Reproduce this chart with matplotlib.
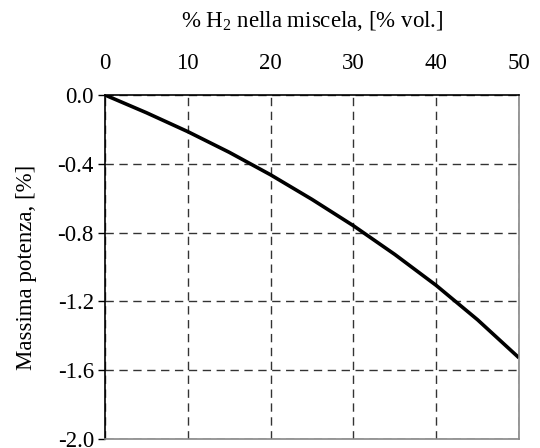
import matplotlib
matplotlib.use("Agg")
import matplotlib.pyplot as plt
import numpy as np

h2_percent = [0, 5, 10, 15, 20, 25, 30, 35, 40, 45, 50]
power_change = [0.0, -0.103, -0.213, -0.333, -0.464, -0.607, -0.760, -0.927, -1.107, -1.307, -1.528]
x_ticks = [0, 10, 20, 30, 40, 50]
y_ticks = [0.0, -0.4, -0.8, -1.2, -1.6, -2.0]

plt.rcParams['font.family'] = ['Liberation Serif', 'DejaVu Serif']
plt.rcParams['axes.unicode_minus'] = False
plt.rcParams['mathtext.fontset'] = 'custom'
plt.rcParams['mathtext.rm'] = 'Liberation Serif'
plt.rcParams['mathtext.it'] = 'Liberation Serif:italic'
plt.rcParams['mathtext.default'] = 'regular'

FS = 16.5

fig = plt.figure(figsize=(5.4, 4.48), dpi=100)
ax = fig.add_axes([105/540, 1 - 439/448, (519-105)/540, (439-95)/448])

ax.plot(h2_percent, power_change, color='black', linewidth=2.6,
        solid_joinstyle='round', solid_capstyle='butt')
ax.set_xlim(0, 50)
ax.set_ylim(-2.0, 0.0)
ax.xaxis.tick_top()
ax.xaxis.set_label_position('top')
ax.set_xticks(x_ticks)
ax.set_xticklabels([str(v) for v in x_ticks])
ax.set_yticks(y_ticks)
ax.set_yticklabels([f"{v:.1f}".replace("-0.0", "0.0") for v in y_ticks])
ax.tick_params(axis='x', length=0, pad=15, labelsize=FS)
ax.tick_params(axis='y', length=5, width=1, direction='out', pad=3, labelsize=FS)
ax.grid(True, linestyle=(0, (6, 4)), color='#333333', linewidth=1)
ax.set_xlabel('% H$_2$ nella miscela, [% vol.]', fontsize=FS, labelpad=19)
ax.set_ylabel('Massima potenza, [%]', fontsize=FS, labelpad=15)
for s in ['left', 'top']:
    ax.spines[s].set_color('black')
    ax.spines[s].set_linewidth(1.2)
for s in ['right', 'bottom']:
    ax.spines[s].set_color('#888888')
    ax.spines[s].set_linewidth(1.2)

fig.savefig('out.png', dpi=100)
